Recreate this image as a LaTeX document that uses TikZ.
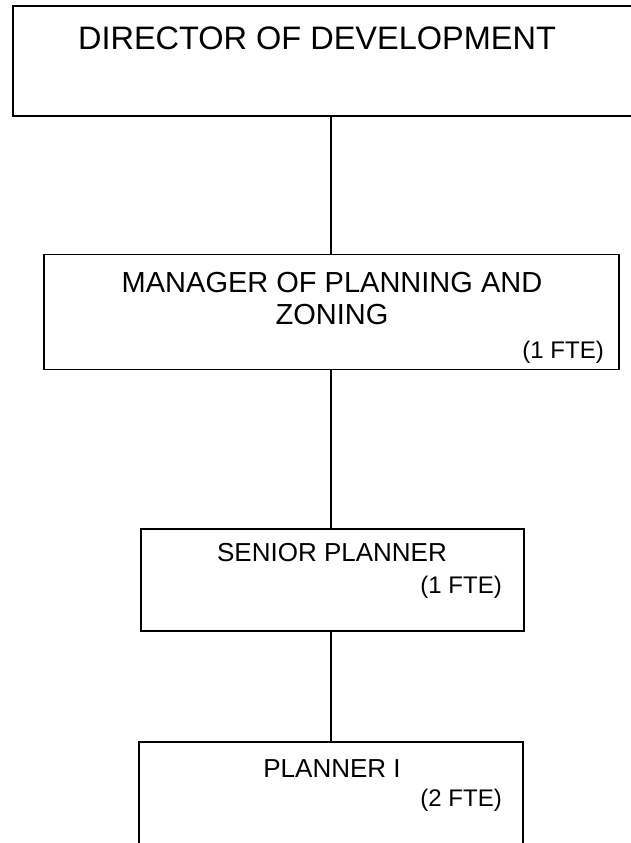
\documentclass[tikz,border=0pt]{standalone}
\usepackage{fontspec}
\setmainfont{Liberation Sans}
\begin{document}
\begin{tikzpicture}[x=1pt,y=-1pt,
  box/.style={draw=black,line width=1.6pt,inner sep=0pt,outer sep=0pt},
  conn/.style={draw=black,line width=1.4pt},
  big/.style={font=\fontsize{32.5}{38}\selectfont,inner sep=0pt},
  mgrf/.style={font=\fontsize{29}{34}\selectfont,inner sep=0pt},
  mid/.style={font=\fontsize{26}{31}\selectfont,inner sep=0pt},
  fte/.style={font=\fontsize{24}{28}\selectfont,inner sep=0pt}]
\useasboundingbox (0,0) rectangle (630,843);
\fill[white] (0,0) rectangle (630,843);
% boxes
\node[box,anchor=north west,minimum width=636.6pt,minimum height=110pt] (dir) at (12.7,6) {};
\node[box,anchor=north west,minimum width=575pt,minimum height=115pt] (mgr) at (44,254.3) {};
\node[box,anchor=north west,minimum width=383pt,minimum height=102pt] (sen) at (141,529) {};
\node[box,anchor=north west,minimum width=384pt,minimum height=130pt] (pla) at (139,741.7) {};
% texts
\node[big,anchor=base] (t1) at (317,49) {DIRECTOR OF DEVELOPMENT};
\node[mgrf,anchor=base] (t2) at (332,292) {MANAGER OF PLANNING AND};
\node[mgrf,anchor=base] (t3) at (332,324) {ZONING};
\node[fte,anchor=base east] (t4) at (604,358) {(1 FTE)};
\node[mid,anchor=base] (t5) at (332,561) {SENIOR PLANNER};
\node[fte,anchor=base east] (t6) at (502,593) {(1 FTE)};
\node[mid,anchor=base] (t7) at (332,777) {PLANNER I};
\node[fte,anchor=base east] (t8) at (502,806) {(2 FTE)};
% connectors
\draw[conn] (dir.south) -- (dir.south |- mgr.north);
\draw[conn] (dir.south |- mgr.south) -- (dir.south |- sen.north);
\draw[conn] (dir.south |- sen.south) -- (dir.south |- pla.north);
\end{tikzpicture}
\end{document}
